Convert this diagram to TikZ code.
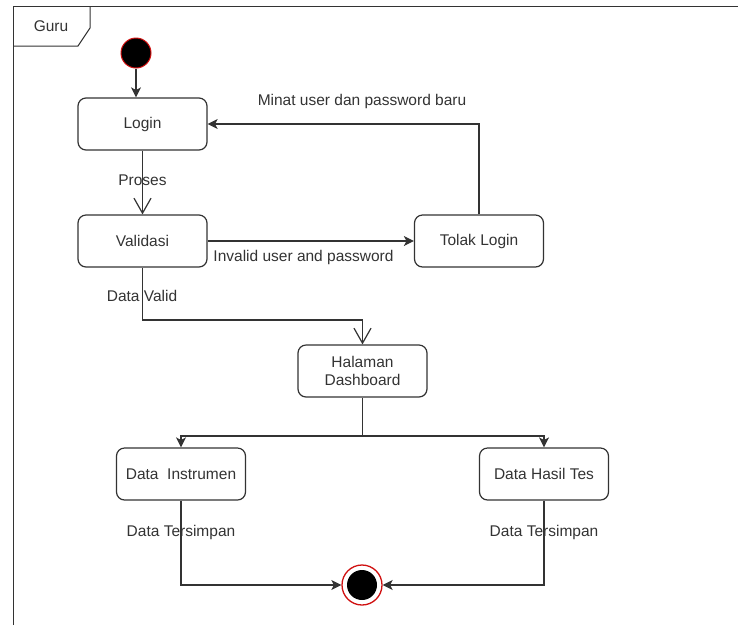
\documentclass[tikz,border=0pt]{standalone}
\usepackage{fontspec}
\setmainfont{Liberation Sans}
\usetikzlibrary{arrows.meta}
\definecolor{ink}{HTML}{333333}
\definecolor{ring}{HTML}{D01010}
\begin{document}
\begin{tikzpicture}[x=1pt,y=-1pt,
  font=\fontsize{15.5}{18.5}\selectfont,
  act/.style={draw=ink, line width=1.2pt, rounded corners=8pt,
    minimum width=129pt, minimum height=52pt, text=ink, align=center, inner sep=0pt},
  flow/.style={draw=ink, line width=1.2pt},
  fillarrow/.style={-{Stealth[length=10pt,width=10pt,inset=2.5pt]}},
  openarrow/.style={-{Straight Barb[length=15pt,width=17pt,line width=1.2pt]}},
  lbl/.style={text=ink, inner sep=1pt}]
\useasboundingbox (0,0) rectangle (738,625);

% swimlane frame with its tab
\draw[ink, line width=1pt] (13,625) -- (13,6) -- (738,6);
\draw[ink, line width=1pt] (13,46) -- (78,46) -- (90,28) -- (90,6);
\node[lbl] (lane) at (51,26) {Guru};

% initial and final states
\node[circle, fill=black, draw=ring, line width=1pt, minimum size=30pt, inner sep=0pt] (init) at (136,53) {};
\node[circle, fill=white, draw=ring, line width=1.3pt, minimum size=40pt, inner sep=0pt] (final) at (362,585) {};
\node[circle, fill=black, minimum size=30pt, inner sep=0pt] (finalcore) at (final) {};

% activities
\node[act] (login) at (142.5,124) {Login};
\node[act] (validasi) at (142.5,241) {Validasi};
\node[act] (tolak) at (479,241) {Tolak Login};
\node[act] (halaman) at (362.5,371) {Halaman\\Dashboard};
\node[act] (instrumen) at (181,474) {Data\ \ Instrumen};
\node[act] (hasil) at (544,474) {Data Hasil Tes};

% bend points
\coordinate (dv) at (142.5,320);
\coordinate (split) at (362.5,436);

% flows
\draw[flow, fillarrow] (init.south) -- (init.south |- login.north);
\draw[flow, openarrow] (login.south) -- (validasi.north);
\node[lbl] (lproses) at (142.5,180) {Proses};

\draw[flow, fillarrow] (validasi.east) -- (tolak.west);
\node[lbl] (linvalid) at (303.5,257) {Invalid user and password};

\draw[flow, fillarrow] (tolak.north) |- (login.east);
\node[lbl] (lminat) at (362,101) {Minat user dan password baru};

\draw[flow, openarrow] (validasi.south) -- (dv) -| (halaman.north);
\node[lbl] (lvalid) at (142,296) {Data Valid};

\draw[flow] (halaman.south) -- (split);
\draw[flow, fillarrow] (split) -| (instrumen.north);
\draw[flow, fillarrow] (split) -| (hasil.north);

\draw[flow, fillarrow] (instrumen.south) |- (final.west);
\draw[flow, fillarrow] (hasil.south) |- (final.east);
\node[lbl] (lsimpan1) at (181,532) {Data Tersimpan};
\node[lbl] (lsimpan2) at (544,532) {Data Tersimpan};
\end{tikzpicture}
\end{document}
